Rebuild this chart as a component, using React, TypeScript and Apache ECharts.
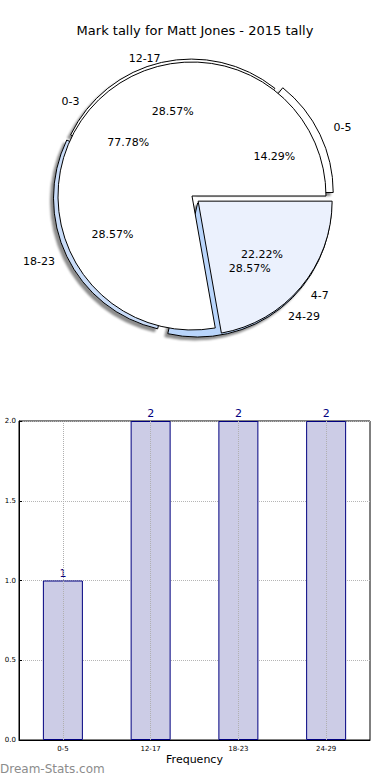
import React, { useEffect, useRef } from "react";
import * as echarts from "echarts";

// ---- data ----
const titleText = "Mark tally for Matt Jones - 2015 tally";
const pie1Labels = ["0-5", "12-17", "18-23", "24-29"];
const pie1Values = [1, 2, 2, 2];
const pie2Labels = ["0-3", "4-7"];
const pie2Values = [7, 2];
const barCategories = ["0-5", "12-17", "18-23", "24-29"];
const barValues = [1, 2, 2, 2];
const yTickMin = 0;
const yTickMax = 2;
const yTickStep = 0.5;
const xAxisName = "Frequency";
const watermark = "Dream-Stats.com";

// ---- styles ----
const FONT = "DejaVu Sans";
const CENTER = [192, 196];
const R = 134;
const pie1Colors = ["#ffffff", "#ffffff", "#c9dcf8", "#b9d5fb"];
const pie1Explode = [8, 3, 5, 9];
const pie1NameGap = [15, 4, 13, 11];
const pie2Colors = ["#ffffff", "#ebf1fd"];
const pie2Explode = [0, 8];
const pie2NameGap = [13, 13];

function sliceSeries(
  labels: string[],
  values: number[],
  colors: string[],
  explode: number[],
  nameGap: number[],
  shadow: boolean
) {
  const out: any[] = [];
  labels.forEach((_, i) => {
    const base = {
      type: "pie",
      center: CENTER,
      startAngle: 0,
      clockwise: false,
      selectedMode: "multiple",
      selectedOffset: explode[i],
      avoidLabelOverlap: false,
      silent: true,
      animation: false,
    };
    // wedge + name label
    out.push({
      ...base,
      radius: R,
      labelLine: { show: false, length: nameGap[i], length2: 0 },
      data: values.map((v, j) => ({
        name: labels[j],
        value: v,
        selected: j === i,
        itemStyle:
          j === i
            ? {
                color: colors[j],
                borderColor: "#000",
                borderWidth: 1,
                shadowColor: shadow ? "rgba(0,0,0,0.45)" : "transparent",
                shadowBlur: shadow ? 2 : 0,
                shadowOffsetX: shadow ? -3 : 0,
                shadowOffsetY: shadow ? 3 : 0,
              }
            : { color: "transparent", borderWidth: 0, shadowColor: "transparent" },
        label:
          j === i
            ? {
                show: true,
                position: "outside",
                distanceToLabelLine: 0,
                formatter: "{b}",
                fontFamily: FONT,
                fontSize: 11,
                color: "#000",
              }
            : { show: false },
      })),
    });
    // percentage label (invisible wedge with 1.2R radius -> label at 0.6R)
    out.push({
      ...base,
      radius: R * 1.2,
      labelLine: { show: false },
      data: values.map((v, j) => ({
        name: labels[j],
        value: v,
        selected: j === i,
        itemStyle: { color: "transparent", borderWidth: 0 },
        label:
          j === i
            ? {
                show: true,
                position: "inside",
                formatter: "{d}%",
                fontFamily: FONT,
                fontSize: 11,
                color: "#000",
              }
            : { show: false },
      })),
    });
  });
  return out;
}

export default function App() {
  const ref = useRef<HTMLDivElement>(null);
  useEffect(() => {
    if (!ref.current) return;
    const chart = echarts.init(ref.current, null, { renderer: "svg" });
    chart.setOption({
      animation: false,
      backgroundColor: "#fff",
      title: {
        text: titleText,
        left: "center",
        top: 19,
        textStyle: { fontFamily: FONT, fontSize: 13, fontWeight: "normal", color: "#000" },
      },
      grid: {
        left: 19,
        top: 421,
        width: 351,
        height: 319,
        show: true,
        borderColor: "#000",
        borderWidth: 1,
        backgroundColor: "transparent",
      },
      xAxis: {
        type: "category",
        data: barCategories,
        axisLine: { lineStyle: { color: "#000" } },
        axisTick: { show: false },
        axisLabel: { fontFamily: FONT, fontSize: 7, color: "#000", margin: 5 },
        name: xAxisName,
        nameLocation: "middle",
        nameGap: 14,
        nameTextStyle: { fontFamily: FONT, fontSize: 11, color: "#000" },
        splitLine: { show: false },
      },
      yAxis: {
        type: "value",
        min: yTickMin,
        max: yTickMax,
        interval: yTickStep,
        axisLine: { show: true, lineStyle: { color: "#000" } },
        axisTick: { show: true, inside: true, length: 3, lineStyle: { color: "#000" } },
        axisLabel: {
          fontFamily: FONT,
          fontSize: 7,
          color: "#000",
          margin: 3,
          formatter: (v: number) => v.toFixed(1),
        },
        splitLine: { show: true, lineStyle: { color: "#b5b5b5", type: "dotted", width: 1 } },
      },
      graphic: [
        {
          type: "text",
          left: 0,
          top: 763,
          style: { text: watermark, fill: "#8c8c8c", font: `normal 12px ${FONT}` },
        },
      ],
      series: [
        ...sliceSeries(pie1Labels, pie1Values, pie1Colors, pie1Explode, pie1NameGap, true),
        ...sliceSeries(pie2Labels, pie2Values, pie2Colors, pie2Explode, pie2NameGap, false),
        {
          type: "bar",
          data: barValues,
          barWidth: 40,
          itemStyle: { color: "#cccce6", borderColor: "#000080", borderWidth: 1 },
          label: {
            show: true,
            position: "top",
            distance: 2,
            color: "#000080",
            fontFamily: FONT,
            fontSize: 11,
          },
          markLine: {
            silent: true,
            symbol: "none",
            label: { show: false },
            lineStyle: { color: "#b0b0b0", type: "dotted", width: 1 },
            data: barCategories.map((c) => ({ xAxis: c })),
          },
        },
      ],
    });
    return () => chart.dispose();
  }, []);
  return (
    <div
      ref={ref}
      style={{ position: "absolute", left: 0, top: 0, width: 390, height: 780, background: "#fff" }}
    />
  );
}
